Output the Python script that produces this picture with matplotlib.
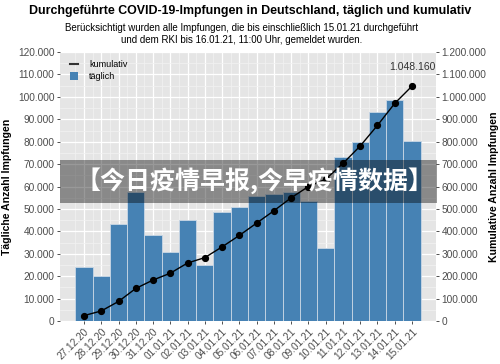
"""COVID-19 vaccinations in Germany, daily and cumulative (RKI, Jan 2021)."""

import matplotlib
matplotlib.use('Agg')
import matplotlib.pyplot as plt
import matplotlib.transforms as mtransforms
from matplotlib.ticker import FuncFormatter, MultipleLocator
from matplotlib.lines import Line2D
from matplotlib.patches import Patch

# Data
dates = ['27.12.20', '28.12.20', '29.12.20', '30.12.20', '31.12.20',
         '01.01.21', '02.01.21', '03.01.21', '04.01.21', '05.01.21',
         '06.01.21', '07.01.21', '08.01.21', '09.01.21', '10.01.21',
         '11.01.21', '12.01.21', '13.01.21', '14.01.21', '15.01.21']
daily = [24300, 19900, 43200, 57700, 38300,
         30900, 45000, 24800, 48700, 50700,
         55900, 56600, 57700, 53700, 32700,
         73000, 79800, 93300, 98400, 80200]
cumulative = [24300, 45000, 87500, 145500, 183000,
              213500, 259000, 283000, 331000, 382000,
              437000, 492000, 550000, 600000, 633000,
              703000, 781000, 873000, 971000, 1048160]
last_label = '1.048.160'

title = 'Durchgeführte COVID-19-Impfungen in Deutschland, täglich und kumulativ'
subtitle = ('Berücksichtigt wurden alle Impfungen, die bis einschließlich 15.01.21 durchgeführt\n'
            'und dem RKI bis 16.01.21, 11:00 Uhr, gemeldet wurden.')
banner = '【今日疫情早报,今早疫情数据】'

plt.rcParams['font.family'] = ['Liberation Sans', 'DejaVu Sans']

BAR = '#4682B4'
PANEL = '#E5E5E5'
TICKCOL = '#4D4D4D'


def thousands(x, pos):
    return f'{int(round(x)):,}'.replace(',', '.')


fig = plt.figure(figsize=(5.0, 3.64), dpi=100)
ax = fig.add_axes([0.12, 0.118, 0.752, 0.739])
ax2 = ax.twinx()

x = list(range(len(dates)))

# daily bars
ax.set_facecolor(PANEL)
ax.bar(x, daily, width=1.0, color=BAR, edgecolor='#C9D7E5', linewidth=0.6, zorder=3)
ax.set_xlim(-1.39, 20.39)
ax.set_ylim(0, 120000)
ax.yaxis.set_major_locator(MultipleLocator(10000))
ax.yaxis.set_minor_locator(MultipleLocator(5000))
ax.yaxis.set_major_formatter(FuncFormatter(thousands))
ax.set_xticks(x)
ax.set_xticks([i + 0.5 for i in range(-1, len(dates))], minor=True)
ax.set_xticklabels(dates, rotation=45, ha='right', va='top', rotation_mode='anchor')
offset = mtransforms.ScaledTranslation(3 / 100, 0, fig.dpi_scale_trans)
for lab in ax.get_xticklabels():
    lab.set_transform(lab.get_transform() + offset)

ax.grid(which='major', color='white', linewidth=0.9, zorder=0)
ax.grid(which='minor', color='#F2F2F2', linewidth=0.5, zorder=0)
ax.set_axisbelow(True)
for sp in ax.spines.values():
    sp.set_visible(False)
for sp in ax2.spines.values():
    sp.set_visible(False)

ax.tick_params(which='major', length=2.5, width=0.6, color='#333333',
               labelsize=7.3, labelcolor=TICKCOL, pad=1.5)
ax.tick_params(which='minor', length=0)
ax.set_ylabel('Tägliche Anzahl Impfungen', fontsize=7.6, fontweight='bold', labelpad=4)

# cumulative line on the right axis
ax2.plot(x, cumulative, color='black', linewidth=1.0, marker='o',
         markersize=4.2, zorder=5)
ax2.set_ylim(0, 1200000)
ax2.yaxis.set_major_locator(MultipleLocator(100000))
ax2.yaxis.set_major_formatter(FuncFormatter(thousands))
ax2.tick_params(which='major', length=2.5, width=0.6, color='#333333',
                labelsize=7.3, labelcolor=TICKCOL, pad=1.5)
ax2.set_ylabel('Kumulative Anzahl Impfungen', fontsize=7.6, fontweight='bold', labelpad=2)
ax2.annotate(last_label, xy=(x[-1], cumulative[-1]), xytext=(0, 14),
             textcoords='offset points', ha='center', va='center',
             fontsize=7.5, color='#333333')

# legend
handles = [Line2D([0], [0], color='#333333', linewidth=1.5),
           Patch(facecolor=BAR, edgecolor='none')]
ax.legend(handles, ['kumulativ', 'täglich'], loc='upper left', frameon=False,
          fontsize=6.5, handlelength=0.9, handleheight=0.9, handletextpad=1.2,
          labelspacing=0.3, borderaxespad=0.5, bbox_to_anchor=(0.005, 1.0))

# titles
fig.text(0.5, 1 - 11 / 364, title, ha='center', va='center',
         fontsize=8.9, fontweight='bold')
fig.text(0.484, 1 - 34 / 364, subtitle, ha='center', va='center',
         fontsize=7.0, linespacing=1.2)

# overlay banner
fig.patches.append(plt.Rectangle((60 / 500, 1 - 203 / 364), 377 / 500, 43 / 364,
                                 transform=fig.transFigure, facecolor='black',
                                 alpha=0.4, edgecolor='none', zorder=10))
fig.text(255 / 500, 1 - 181 / 364, banner, ha='center', va='center',
         fontsize=18, fontweight='bold', color='white', zorder=11,
         family=['Noto Sans CJK SC', 'DejaVu Sans'])

fig.savefig('out.png', dpi=100)
